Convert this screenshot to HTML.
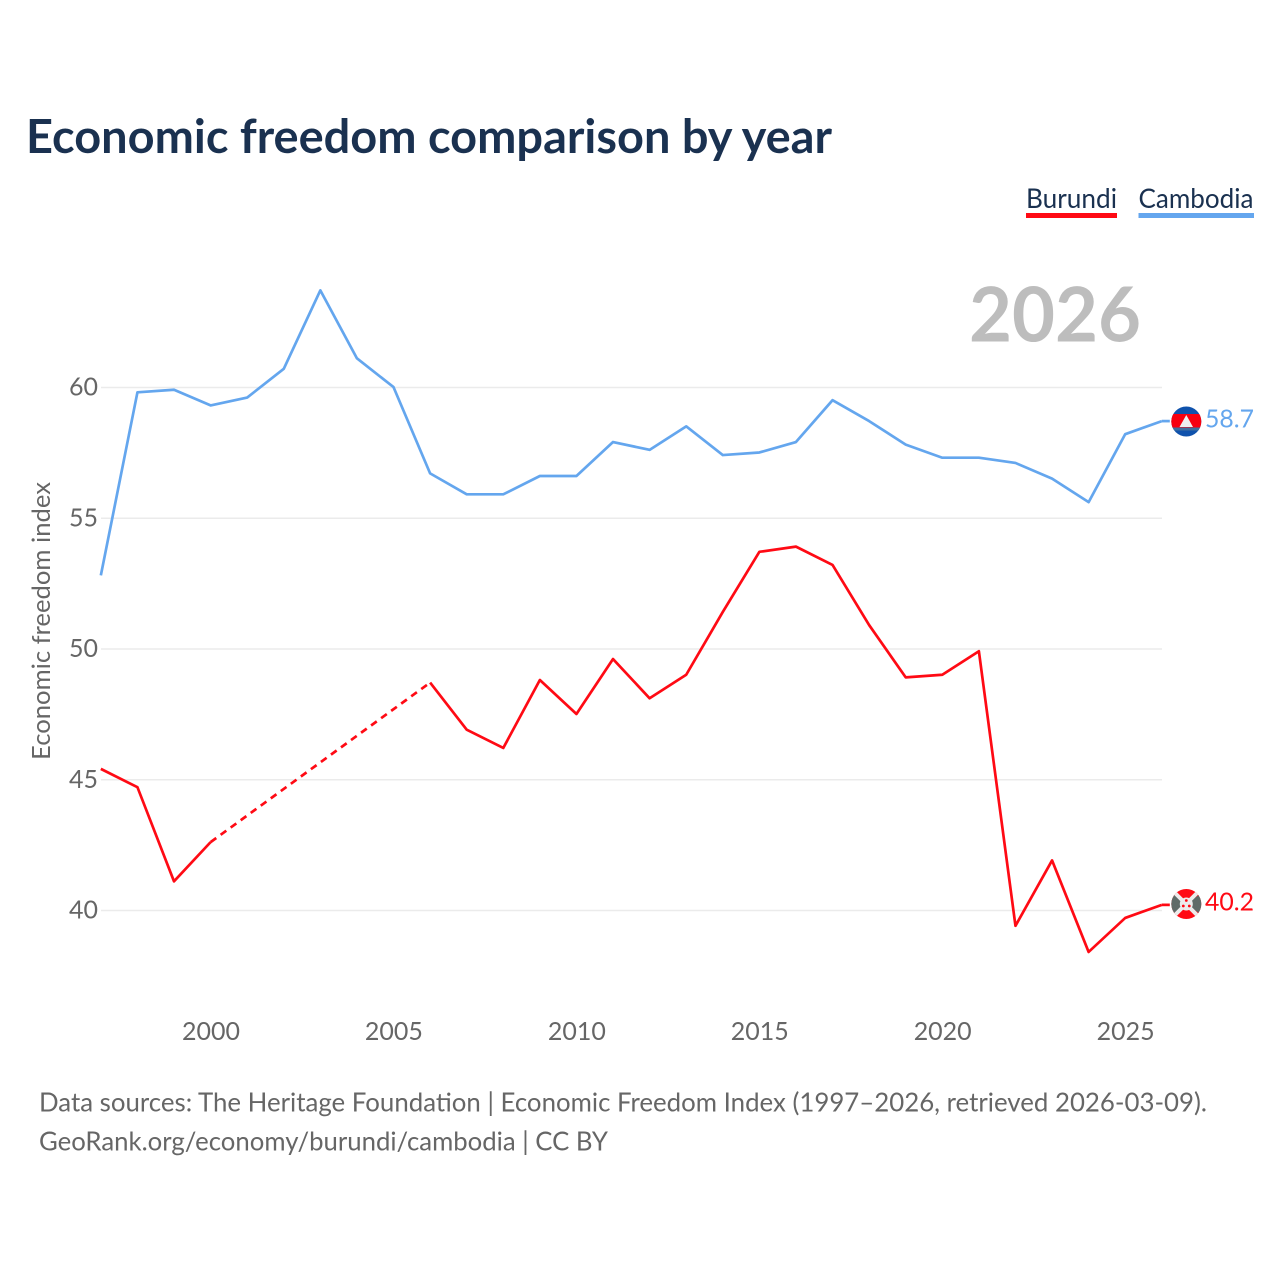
<!DOCTYPE html>
<html lang="en">
<head>
<meta charset="utf-8">
<title>Economic freedom comparison by year</title>
<style>
html,body{margin:0;padding:0;background:#fff;width:1280px;height:1280px;overflow:hidden}
svg{display:block}
text{font-family:"Lato","Carlito","Liberation Sans",sans-serif}
</style>
</head>
<body>
<svg id="chart" width="1280" height="1280" viewBox="0 0 1280 1280" xmlns="http://www.w3.org/2000/svg">
  <rect width="1280" height="1280" fill="#fff"/>
  <text x="26" y="153" font-size="47" font-weight="700" fill="#1a3150" textLength="806" lengthAdjust="spacingAndGlyphs">Economic freedom comparison by year</text>

  <g>
    <text x="1026" y="208" font-size="27" fill="#1a3150" textLength="91" lengthAdjust="spacingAndGlyphs">Burundi</text>
    <rect x="1026" y="213" width="91" height="5" fill="#ff0a14"/>
  </g>
  <g>
    <text x="1138.5" y="208" font-size="27" fill="#1a3150" textLength="115" lengthAdjust="spacingAndGlyphs">Cambodia</text>
    <rect x="1138.5" y="213" width="115.5" height="5" fill="#64a6ee"/>
  </g>

  <text x="1141" y="341.5" font-size="76" font-weight="700" fill="#bdbdbd" text-anchor="end" textLength="172" lengthAdjust="spacingAndGlyphs">2026</text>

  <g id="grid"></g>
  <g id="yticks"></g>
  <g id="xticks"></g>
  <text transform="translate(50,621) rotate(-90)" font-size="25" fill="#666" text-anchor="middle" textLength="278" lengthAdjust="spacingAndGlyphs">Economic freedom index</text>

  <g id="series"></g>

  <g>
    <clipPath id="clip-kh"><circle cx="1186.3" cy="421.5" r="15"/></clipPath>
    <g clip-path="url(#clip-kh)">
      <rect x="1170" y="406" width="33" height="31" fill="#0f52ac"/>
      <rect x="1170" y="414" width="33" height="13.5" fill="#f8000f"/>
      <rect x="1170" y="427.5" width="33" height="3" fill="#3f6f9e"/>
      <polygon points="1186.3,415 1179.5,427 1193,427" fill="#efefef"/>
    </g>
  </g>
  <g>
    <clipPath id="clip-bi"><circle cx="1186.3" cy="904" r="15"/></clipPath>
    <g clip-path="url(#clip-bi)">
      <rect x="1170" y="888" width="33" height="32" fill="#ff0a14"/>
      <polygon points="1170,892 1186.3,904 1170,916" fill="#5f6b68"/>
      <polygon points="1203,892 1186.3,904 1203,916" fill="#5f6b68"/>
      <path d="M1174 892L1198 916M1198 892L1174 916" stroke="#ececec" stroke-width="4"/>
      <circle cx="1186.3" cy="904" r="6.5" fill="#ececec"/>
      <circle cx="1186.3" cy="900.5" r="1.4" fill="#ff0a14"/>
      <circle cx="1183.3" cy="906" r="1.4" fill="#ff0a14"/>
      <circle cx="1189.3" cy="906" r="1.4" fill="#ff0a14"/>
    </g>
  </g>
  <text x="1205" y="427.5" font-size="25" fill="#64a6ee" textLength="49" lengthAdjust="spacingAndGlyphs">58.7</text>
  <text x="1205" y="910.5" font-size="25" fill="#ff0a14" textLength="49" lengthAdjust="spacingAndGlyphs">40.2</text>

  <text x="39" y="1111.5" font-size="26" fill="#666" textLength="1168" lengthAdjust="spacingAndGlyphs">Data sources: The Heritage Foundation | Economic Freedom Index (1997–2026, retrieved 2026-03-09).</text>
  <text x="39" y="1150.5" font-size="26" fill="#666" textLength="569" lengthAdjust="spacingAndGlyphs">GeoRank.org/economy/burundi/cambodia | CC BY</text>
</svg>
<script>
var years = [1997,1998,1999,2000,2001,2002,2003,2004,2005,2006,2007,2008,2009,2010,2011,2012,2013,2014,2015,2016,2017,2018,2019,2020,2021,2022,2023,2024,2025,2026];
var cambodiaValues = [52.8,59.8,59.9,59.3,59.6,60.7,63.7,61.1,60.0,56.7,55.9,55.9,56.6,56.6,57.9,57.6,58.5,57.4,57.5,57.9,59.5,58.7,57.8,57.3,57.3,57.1,56.5,55.6,58.2,58.7];
var burundiValues = [45.4,44.7,41.1,42.6,null,null,null,null,null,48.7,46.9,46.2,48.8,47.5,49.6,48.1,49.0,51.4,53.7,53.9,53.2,50.9,48.9,49.0,49.9,39.4,41.9,38.4,39.7,40.2];
var yTicks = [40,45,50,55,60];
var xTicks = [2000,2005,2010,2015,2020,2025];

var NS = 'http://www.w3.org/2000/svg';
function xScale(year){ return 210.6 + (year - 2000) * 36.585; }
function yScale(value){ return 910.5 - (value - 40) * 26.15; }
function make(tag, attrs, parent){
  var el = document.createElementNS(NS, tag);
  for (var k in attrs) el.setAttribute(k, attrs[k]);
  parent.appendChild(el);
  return el;
}

var grid = document.getElementById('grid');
var yG = document.getElementById('yticks');
var xG = document.getElementById('xticks');
var seriesG = document.getElementById('series');
seriesG.setAttribute('transform', 'translate(0,-0.4)');

yTicks.forEach(function(t){
  var line = make('line', {x1:101, x2:1162, y1:yScale(t), y2:yScale(t), stroke:'#ebebeb', 'stroke-width':1.5}, grid);
  
  
  var label = make('text', {x:98, y:yScale(t) + 8, 'font-size':25, fill:'#666', 'text-anchor':'end', textLength:29, lengthAdjust:'spacingAndGlyphs'}, yG);
  
  
  label.textContent = t;
});

xTicks.forEach(function(t){
  var label = make('text', {x:xScale(t) + 0.4, y:1040, 'font-size':25, fill:'#666', 'text-anchor':'middle', textLength:58, lengthAdjust:'spacingAndGlyphs'}, xG);
  
  
  label.textContent = t;
});

function drawSeries(name, values, color){
  var solidRuns = [], run = [], lastIdx = -1, gaps = [];
  values.forEach(function(v, i){
    if (v === null) {
      if (run.length) { solidRuns.push(run); run = []; }
      return;
    }
    if (lastIdx >= 0 && i - lastIdx > 1) gaps.push([lastIdx, i]);
    run.push(i);
    lastIdx = i;
  });
  if (run.length) solidRuns.push(run);

  solidRuns.forEach(function(r, n){
    var pts = r.map(function(i){ return xScale(years[i]).toFixed(2) + ',' + yScale(values[i]).toFixed(2); }).join(' ');
    var line = make('polyline', {points:pts, fill:'none', stroke:color, 'stroke-width':2.7, 'stroke-linejoin':'round'}, seriesG);
    
    
  });
  gaps.forEach(function(g, n){
    var dash = make('line', {x1:xScale(years[g[0]]), y1:yScale(values[g[0]]), x2:xScale(years[g[1]]), y2:yScale(values[g[1]]), stroke:color, 'stroke-width':2.7, 'stroke-dasharray':'7 5.4'}, seriesG);
    
    
  });
  var last = values[values.length - 1];
  var lead = make('line', {x1:xScale(years[years.length - 1]), y1:yScale(last), x2:xScale(years[years.length - 1]) + 8, y2:yScale(last), stroke:color, 'stroke-width':2.7}, seriesG);
  
  
}
drawSeries('cambodia', cambodiaValues, '#64a6ee');
drawSeries('burundi', burundiValues, '#ff0a14');
</script>
</body>
</html>
